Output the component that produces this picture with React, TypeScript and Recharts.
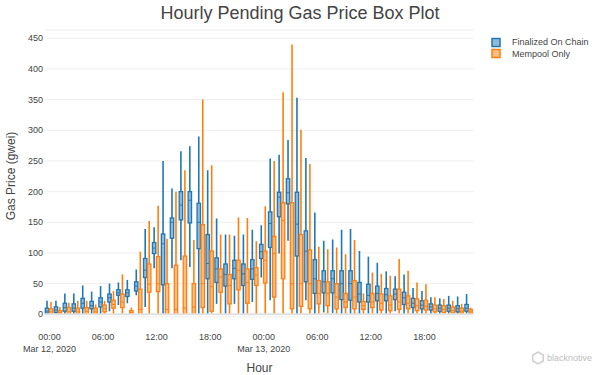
import React from 'react';
import { ComposedChart, Bar, XAxis, YAxis, CartesianGrid, ReferenceLine } from 'recharts';

const FONT = '"Liberation Sans", Arial, Helvetica, sans-serif';

const hourKeys = [
  '03/12 00:00', '03/12 01:00', '03/12 02:00', '03/12 03:00', '03/12 04:00', '03/12 05:00',
  '03/12 06:00', '03/12 07:00', '03/12 08:00', '03/12 09:00', '03/12 10:00', '03/12 11:00',
  '03/12 12:00', '03/12 13:00', '03/12 14:00', '03/12 15:00', '03/12 16:00', '03/12 17:00',
  '03/12 18:00', '03/12 19:00', '03/12 20:00', '03/12 21:00', '03/12 22:00', '03/12 23:00',
  '03/13 00:00', '03/13 01:00', '03/13 02:00', '03/13 03:00', '03/13 04:00', '03/13 05:00',
  '03/13 06:00', '03/13 07:00', '03/13 08:00', '03/13 09:00', '03/13 10:00', '03/13 11:00',
  '03/13 12:00', '03/13 13:00', '03/13 14:00', '03/13 15:00', '03/13 16:00', '03/13 17:00',
  '03/13 18:00', '03/13 19:00', '03/13 20:00', '03/13 21:00', '03/13 22:00', '03/13 23:00',
];

const dateLabels: Record<string, string> = { '03/12': 'Mar 12, 2020', '03/13': 'Mar 13, 2020' };
const yTicks = [0, 50, 100, 150, 200, 250, 300, 350, 400, 450];

// Finalized On Chain
const finMin = [0, 0, 0, 0, 0, 0, 0, 5, 15, 18, 31, 12, 75, 0, 75, 88, 77, 0, 0, 17, 1, 17, 0, 20, 60, 23, 99, 120, 0, 23, 0, 3, 2, 0, 0, 0, 0, 0, 0, 5, 0, 0, 0, 0, 0, 0, 0, 0];
const finQ1 = [2, 3, 5, 5, 10, 9, 12, 20, 31, 29, 38, 60, 99, 48, 124, 154, 149, 107, 58, 52, 46, 58, 47, 57, 91, 109, 159, 180, 95, 53, 34, 35, 35, 24, 23, 20, 20, 22, 22, 24, 16, 11, 9, 7, 5, 5, 4, 5];
const finMed = [5, 7, 11, 10, 18, 14, 20, 27, 35, 35, 46, 72, 108, 115, 150, 178, 186, 150, 83, 74, 65, 75, 66, 74, 102, 148, 191, 198, 147, 103, 58, 53, 58, 50, 50, 33, 31, 34, 32, 33, 27, 18, 15, 12, 10, 10, 9, 10];
const finQ3 = [10, 12, 18, 17, 26, 21, 27, 33, 40, 40, 53, 91, 117, 131, 157, 200, 200, 181, 130, 92, 82, 88, 82, 89, 114, 167, 199, 221, 199, 136, 89, 71, 71, 71, 71, 52, 49, 46, 42, 41, 36, 26, 22, 17, 15, 15, 14, 16];
const finMax = [22, 22, 34, 34, 47, 37, 46, 50, 52, 56, 73, 139, 142, 250, 205, 266, 274, 290, 235, 156, 130, 128, 130, 138, 145, 254, 260, 284, 353, 255, 166, 120, 122, 138, 139, 103, 94, 84, 70, 62, 65, 43, 38, 28, 26, 30, 29, 33];

// Mempool Only
const memMin = [0, 0, 0, 0, 0, 0, 0, 0, 0, 0, 0, 0, 0, 0, 0, 0, 0, 0, 0, 0, 0, 0, 0, 0, 0, 0, 0, 0, 0, 0, 0, 0, 0, 0, 0, 0, 0, 0, 0, 0, 0, 0, 0, 0, 0, 0, 0, 0];
const memQ1 = [0, 0, 0, 0, 0, 0, 4, 10, 11, 0, 0, 36, 37, 0, 0, 0, 0, 11, 5, 36, 17, 40, 18, 47, 51, 28, 58, 9, 13, 9, 17, 14, 9, 11, 9, 8, 11, 7, 6, 8, 9, 6, 7, 4, 3, 2, 2, 2];
const memMed = [4, 3, 4, 4, 5, 4, 9, 16, 20, 3, 8, 49, 50, 8, 8, 10, 12, 50, 45, 61, 47, 72, 52, 64, 88, 99, 153, 50, 50, 50, 34, 34, 28, 20, 28, 14, 20, 18, 15, 20, 18, 14, 13, 9, 8, 6, 5, 5];
const memQ3 = [9, 6, 11, 10, 11, 10, 15, 23, 33, 6, 41, 82, 94, 50, 80, 95, 50, 146, 103, 74, 65, 88, 74, 76, 103, 127, 182, 182, 130, 105, 55, 53, 50, 34, 55, 21, 34, 33, 30, 41, 30, 25, 23, 15, 14, 12, 10, 8];
const memMax = [20, 12, 19, 22, 22, 16, 22, 38, 65, 11, 102, 152, 177, 123, 200, 235, 121, 350, 243, 130, 130, 158, 157, 119, 176, 250, 362, 440, 301, 245, 110, 106, 109, 98, 121, 34, 68, 66, 63, 90, 71, 52, 49, 28, 25, 22, 17, 11];

const BLUE = '#1f77b4';
const BLUE_FILL = 'rgba(31,119,180,0.5)';
const ORANGE = '#ff7f0e';
const ORANGE_FILL = 'rgba(255,127,14,0.5)';

const rows = hourKeys.map((hour, i) => ({
  hour,
  fin: [finMin[i], finMax[i]],
  finStats: [finMin[i], finQ1[i], finMed[i], finQ3[i], finMax[i]],
  mem: [memMin[i], memMax[i]],
  memStats: [memMin[i], memQ1[i], memMed[i], memQ3[i], memMax[i]],
}));

const makeBox = (statsKey: string, stroke: string, fill: string) => (props: any) => {
  const { x, y, width, height, payload } = props;
  if (x == null || y == null || !payload) return <g />;
  const [lo, q1, med, q3, hi] = payload[statsKey];
  const top = Math.min(y, y + height);
  const bot = Math.max(y, y + height);
  const span = hi - lo;
  const px = (v: number) => (span === 0 ? bot : bot - ((v - lo) / span) * (bot - top));
  const cx = x + width / 2;
  const bw = 3.4;
  const yq3 = px(q3);
  const yq1 = px(q1);
  return (
    <g>
      <line x1={cx} x2={cx} y1={px(hi)} y2={yq3} stroke={stroke} strokeWidth={1.6} />
      <line x1={cx} x2={cx} y1={yq1} y2={px(lo)} stroke={stroke} strokeWidth={1.6} />
      <rect x={cx - bw / 2} y={yq3} width={bw} height={Math.max(yq1 - yq3, 0.5)} fill={fill} stroke={stroke} strokeWidth={1.3} />
      <line x1={cx - bw / 2} x2={cx + bw / 2} y1={px(med)} y2={px(med)} stroke={stroke} strokeWidth={1} />
    </g>
  );
};

const FinBox = makeBox('finStats', BLUE, BLUE_FILL);
const MemBox = makeBox('memStats', ORANGE, ORANGE_FILL);

const HourTick = (props: any) => {
  const { x, payload } = props;
  const [d, t] = String(payload.value).split(' ');
  return (
    <g>
      <text x={x} y={340} textAnchor="middle" fontSize={9} fill="#444" fontFamily={FONT}>{t}</text>
      {t === '00:00' && (
        <text x={x} y={352} textAnchor="middle" fontSize={9} fill="#444" fontFamily={FONT}>{dateLabels[d]}</text>
      )}
    </g>
  );
};

export default function App() {
  return (
    <div style={{ position: 'absolute', left: 0, top: 0, width: 600, height: 375, background: '#fff' }}>
      <ComposedChart
        width={600}
        height={375}
        data={rows}
        margin={{ top: 30, right: 126.5, bottom: 0, left: 0 }}
        barGap={0}
        barCategoryGap={0}
      >
        <CartesianGrid vertical={false} stroke="#eeeeee" strokeWidth={1} />
        <XAxis
          dataKey="hour"
          type="category"
          interval={5}
          height={58}
          axisLine={false}
          tickLine={false}
          tick={<HourTick />}
        />
        <YAxis
          type="number"
          width={45}
          domain={[-4.4, 463.5]}
          ticks={yTicks}
          allowDataOverflow
          axisLine={false}
          tickLine={false}
          tickSize={0}
          tickMargin={2}
          tick={{ fontSize: 9, fill: '#444', fontFamily: FONT }}
        />
        <ReferenceLine y={0} stroke="#e2e2e2" strokeWidth={2} />
        <Bar dataKey="fin" name="Finalized On Chain" barSize={4} shape={FinBox} isAnimationActive={false} />
        <Bar dataKey="mem" name="Mempool Only" barSize={4} shape={MemBox} isAnimationActive={false} />
      </ComposedChart>
      <svg width={600} height={375} style={{ position: 'absolute', left: 0, top: 0, pointerEvents: 'none' }}>
        <text x={300} y={19} textAnchor="middle" fontSize={18} fill="#444" fontFamily={FONT}>
          Hourly Pending Gas Price Box Plot
        </text>
        <text x={259.5} y={372} textAnchor="middle" fontSize={12} fill="#444" fontFamily={FONT}>Hour</text>
        <text x={0} y={0} transform="translate(15,176) rotate(-90)" textAnchor="middle" fontSize={12} fill="#444" fontFamily={FONT}>
          Gas Price (gwei)
        </text>
        <rect x={492} y={38.5} width={8} height={8} fill={BLUE_FILL} stroke={BLUE} strokeWidth={1.5} />
        <text x={512} y={45} fontSize={9} fill="#444" fontFamily={FONT}>Finalized On Chain</text>
        <rect x={492} y={49.5} width={8} height={8} fill={ORANGE_FILL} stroke={ORANGE} strokeWidth={1.5} />
        <text x={512} y={56.5} fontSize={9} fill="#444" fontFamily={FONT}>Mempool Only</text>
        <polygon points="538,352 543.2,355 543.2,361 538,364 532.8,361 532.8,355" fill="none" stroke="#cfcfcf" strokeWidth={1.5} />
        <text x={547} y={361} fontSize={9} fill="#bdbdbd" fontFamily={FONT}>blacknotive</text>
      </svg>
    </div>
  );
}
